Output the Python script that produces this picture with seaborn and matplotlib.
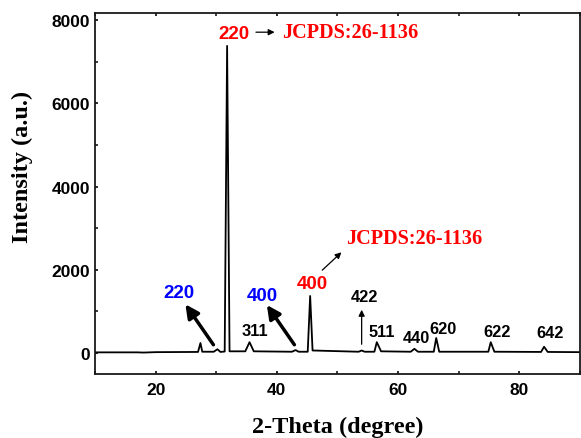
import matplotlib
matplotlib.use("Agg")
import matplotlib.pyplot as plt
import seaborn as sns
import pandas as pd
from matplotlib.ticker import MultipleLocator

# XRD pattern (2-theta, intensity)
two_theta = [10, 17, 18, 20, 27.0, 27.4, 27.7, 29.6, 30.2, 30.7, 31.4, 31.8, 32.2,
             34.8, 35.5, 36.2, 42.5, 43.1, 43.6, 45.1, 45.5, 45.9, 53.5, 54.0, 54.5,
             56.1, 56.5, 57.2, 62.1, 62.7, 63.3, 65.9, 66.3, 66.8, 74.9, 75.3, 75.9,
             83.6, 84.1, 84.7, 90]
intensity = [15, 15, 10, 20, 25, 240, 30, 30, 90, 25, 35, 7380, 40,
             40, 260, 40, 30, 70, 30, 30, 1370, 60, 30, 60, 30,
             30, 260, 40, 30, 100, 30, 30, 360, 30, 30, 260, 30,
             25, 150, 25, 20]

# black hkl labels
hkl_labels = ["311", "511", "440", "620", "622", "642"]
hkl_x = [36.46, 57.37, 63.1, 67.4, 76.26, 85.1]
hkl_y = [543, 510, 370, 585, 510, 490]

df = pd.DataFrame({"theta": two_theta, "intensity": intensity})

sns.set_style("ticks")
plt.rcParams["font.family"] = ["Liberation Sans", "DejaVu Sans"]

fig = plt.figure(figsize=(5.81, 4.39), dpi=100)
ax = fig.add_axes([0.1635, 0.1458, 0.8345, 0.8222])

sns.lineplot(data=df, x="theta", y="intensity", sort=False, color="black",
             linewidth=1.3, ax=ax)

ax.set_xlim(10, 90)
ax.set_ylim(-505, 8170)
ax.xaxis.set_major_locator(MultipleLocator(20))
ax.xaxis.set_minor_locator(MultipleLocator(10))
ax.yaxis.set_major_locator(MultipleLocator(2000))
ax.yaxis.set_minor_locator(MultipleLocator(1000))

for s in ax.spines.values():
    s.set_linewidth(1.3)
    s.set_color("#1a1a1a")

ax.tick_params(which="major", length=5.5, width=1.3, direction="out",
               labelsize=12.5, labelcolor="black", color="#1a1a1a",
               top=False, right=False)
ax.tick_params(axis="y", which="major", pad=3.5)
ax.tick_params(axis="x", which="major", pad=5.5)
ax.tick_params(which="minor", length=3.5, width=1.2, direction="out",
               color="#1a1a1a", top=False, right=False)
ax.tick_params(top=True, which="both", direction="in", length=2)
for lab in ax.get_xticklabels() + ax.get_yticklabels():
    lab.set_fontweight("bold")

serif = {"family": ["Liberation Serif", "DejaVu Serif"], "weight": "bold",
         "color": "black"}
ax.set_xlabel("2-Theta (degree)", fontdict=dict(serif, size=17.5), labelpad=14)
ax.set_ylabel("Intensity (a.u.)", fontdict=dict(serif, size=17.5))
ax.yaxis.set_label_coords(-0.128, 0.576)

bold = dict(fontweight="bold", ha="center", va="center")

# main 220 peak label + reference card
ax.text(32.9, 7670, "220", color="red", fontsize=13.5, **bold)
ax.annotate("", xy=(40.1, 7710), xytext=(36.1, 7710),
            arrowprops=dict(arrowstyle="-|>", color="black", lw=0.9,
                            mutation_scale=9))
ax.text(40.9, 7720, "JCPDS:26-1136", color="red", fontsize=14.6, ha="left",
        va="center", fontdict=serif)

# blue labels with thick arrows
ax.text(23.8, 1450, "220", color="blue", fontsize=13.5, **bold)
ax.annotate("", xy=(24.66, 1225), xytext=(29.8, 143),
            arrowprops=dict(arrowstyle="-|>", color="black", lw=2.5,
                            mutation_scale=20))
ax.text(37.6, 1390, "400", color="blue", fontsize=13.5, **bold)
ax.annotate("", xy=(38.1, 1208), xytext=(43.16, 143),
            arrowprops=dict(arrowstyle="-|>", color="black", lw=2.5,
                            mutation_scale=20))

# red 400 + second reference card
ax.text(45.9, 1665, "400", color="red", fontsize=13.5, **bold)
ax.annotate("", xy=(51.0, 2465), xytext=(47.16, 1945),
            arrowprops=dict(arrowstyle="-|>", color="black", lw=0.9,
                            mutation_scale=9))
ax.text(51.44, 2760, "JCPDS:26-1136", color="red", fontsize=14.6, ha="left",
        va="center", fontdict=serif)

# 422 with upward arrow
ax.text(54.5, 1365, "422", color="black", fontsize=11.8, **bold)
ax.annotate("", xy=(54.0, 1105), xytext=(54.0, 143),
            arrowprops=dict(arrowstyle="-|>", color="black", lw=0.9,
                            mutation_scale=9))

for lab, x, y in zip(hkl_labels, hkl_x, hkl_y):
    ax.text(x, y, lab, color="black", fontsize=11.8, **bold)

fig.savefig("out.png", dpi=100)
